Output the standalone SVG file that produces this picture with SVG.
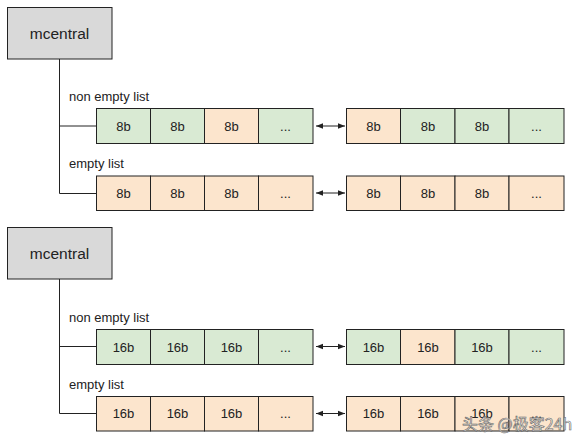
<svg xmlns="http://www.w3.org/2000/svg" width="579" height="443" viewBox="0 0 579 443">
<style>
.bg{fill:#ffffff}
.hub{fill:#d9d9d9;stroke:#222;stroke-width:1}
.g{fill:#d9ead3;stroke:#222;stroke-width:1}
.o{fill:#fce5cd;stroke:#222;stroke-width:1}
.ln{fill:none;stroke:#222;stroke-width:1}
.t{font-family:"Liberation Sans",Arial,sans-serif;fill:#222;text-anchor:middle}
.lab{font-family:"Liberation Sans",Arial,sans-serif;fill:#222;font-size:13px}
.cell{font-size:13px}
.hubt{font-size:15.5px}
</style>
<defs>
<marker id="ah" viewBox="0 0 10 10" refX="10" refY="5" markerWidth="7" markerHeight="7" orient="auto-start-reverse">
<path d="M0,1 L10,5 L0,9 z" fill="#222"/>
</marker>
</defs>
<rect class="bg" x="0" y="0" width="579" height="443"/>

<g id="connectors">
<path class="ln" d="M59.5,59 V193.5 H96 M59.5,126 H96"/>
<path class="ln" d="M59.5,279 V413.5 H96 M59.5,346.5 H96"/>
<line class="ln" x1="316" y1="126" x2="345" y2="126" marker-start="url(#ah)" marker-end="url(#ah)"/>
<line class="ln" x1="316" y1="193" x2="345" y2="193" marker-start="url(#ah)" marker-end="url(#ah)"/>
<line class="ln" x1="316" y1="346.5" x2="345" y2="346.5" marker-start="url(#ah)" marker-end="url(#ah)"/>
<line class="ln" x1="316" y1="413.5" x2="345" y2="413.5" marker-start="url(#ah)" marker-end="url(#ah)"/>
</g>

<g id="mcentral1">
<rect class="hub" x="7.5" y="7.5" width="104.5" height="51.5"/>
<text class="t hubt" x="59.5" y="39">mcentral</text>
</g>
<text class="lab" x="69" y="101">non empty list</text>
<text class="lab" x="69" y="167.5">empty list</text>

<g id="list1a">
<rect class="g" x="96.5" y="108.5" width="54" height="35"/>
<rect class="g" x="150.5" y="108.5" width="54" height="35"/>
<rect class="o" x="204.5" y="108.5" width="54" height="35"/>
<rect class="g" x="258.5" y="108.5" width="54.5" height="35"/>
<text class="t cell" x="123.5" y="130.5">8b</text>
<text class="t cell" x="177.5" y="130.5">8b</text>
<text class="t cell" x="231.5" y="130.5">8b</text>
<text class="t cell" x="285.5" y="130.5">...</text>
</g>
<g id="list1b">
<rect class="o" x="346.5" y="108.5" width="54" height="35"/>
<rect class="g" x="400.5" y="108.5" width="54.5" height="35"/>
<rect class="g" x="455" y="108.5" width="54" height="35"/>
<rect class="g" x="509" y="108.5" width="55" height="35"/>
<text class="t cell" x="373.5" y="130.5">8b</text>
<text class="t cell" x="428" y="130.5">8b</text>
<text class="t cell" x="482" y="130.5">8b</text>
<text class="t cell" x="536.5" y="130.5">...</text>
</g>
<g id="list1c">
<rect class="o" x="96.5" y="176" width="54" height="34.5"/>
<rect class="o" x="150.5" y="176" width="54" height="34.5"/>
<rect class="o" x="204.5" y="176" width="54" height="34.5"/>
<rect class="o" x="258.5" y="176" width="54.5" height="34.5"/>
<text class="t cell" x="123.5" y="197.5">8b</text>
<text class="t cell" x="177.5" y="197.5">8b</text>
<text class="t cell" x="231.5" y="197.5">8b</text>
<text class="t cell" x="285.5" y="197.5">...</text>
</g>
<g id="list1d">
<rect class="o" x="346.5" y="176" width="54" height="34.5"/>
<rect class="o" x="400.5" y="176" width="54.5" height="34.5"/>
<rect class="o" x="455" y="176" width="54" height="34.5"/>
<rect class="o" x="509" y="176" width="55" height="34.5"/>
<text class="t cell" x="373.5" y="197.5">8b</text>
<text class="t cell" x="428" y="197.5">8b</text>
<text class="t cell" x="482" y="197.5">8b</text>
<text class="t cell" x="536.5" y="197.5">...</text>
</g>

<g id="mcentral2">
<rect class="hub" x="7.5" y="227.5" width="104.5" height="51.5"/>
<text class="t hubt" x="59.5" y="259">mcentral</text>
</g>
<text class="lab" x="69" y="322">non empty list</text>
<text class="lab" x="69" y="388.5">empty list</text>

<g id="list2a">
<rect class="g" x="96.5" y="329.5" width="54" height="35"/>
<rect class="g" x="150.5" y="329.5" width="54" height="35"/>
<rect class="g" x="204.5" y="329.5" width="54" height="35"/>
<rect class="g" x="258.5" y="329.5" width="54.5" height="35"/>
<text class="t cell" x="123.5" y="351.5">16b</text>
<text class="t cell" x="177.5" y="351.5">16b</text>
<text class="t cell" x="231.5" y="351.5">16b</text>
<text class="t cell" x="285.5" y="351.5">...</text>
</g>
<g id="list2b">
<rect class="g" x="346.5" y="329.5" width="54" height="35"/>
<rect class="o" x="400.5" y="329.5" width="54.5" height="35"/>
<rect class="g" x="455" y="329.5" width="54" height="35"/>
<rect class="g" x="509" y="329.5" width="55" height="35"/>
<text class="t cell" x="373.5" y="351.5">16b</text>
<text class="t cell" x="428" y="351.5">16b</text>
<text class="t cell" x="482" y="351.5">16b</text>
<text class="t cell" x="536.5" y="351.5">...</text>
</g>
<g id="list2c">
<rect class="o" x="96.5" y="396.5" width="54" height="34.5"/>
<rect class="o" x="150.5" y="396.5" width="54" height="34.5"/>
<rect class="o" x="204.5" y="396.5" width="54" height="34.5"/>
<rect class="o" x="258.5" y="396.5" width="54.5" height="34.5"/>
<text class="t cell" x="123.5" y="418">16b</text>
<text class="t cell" x="177.5" y="418">16b</text>
<text class="t cell" x="231.5" y="418">16b</text>
<text class="t cell" x="285.5" y="418">...</text>
</g>
<g id="list2d">
<rect class="o" x="346.5" y="396.5" width="54" height="34.5"/>
<rect class="o" x="400.5" y="396.5" width="54.5" height="34.5"/>
<rect class="o" x="455" y="396.5" width="54" height="34.5"/>
<rect class="o" x="509" y="396.5" width="55" height="34.5"/>
<text class="t cell" x="373.5" y="418">16b</text>
<text class="t cell" x="428" y="418">16b</text>
<text class="t cell" x="482" y="418">16b</text>
<text class="t cell" x="536.5" y="418">...</text>
</g>

<text x="462" y="430" font-family="'Noto Sans CJK SC','Liberation Sans',sans-serif" font-size="16" fill="#ffffff" fill-opacity="0.7" stroke="#666" stroke-width="0.6">头条 @极客24h</text>
</svg>
